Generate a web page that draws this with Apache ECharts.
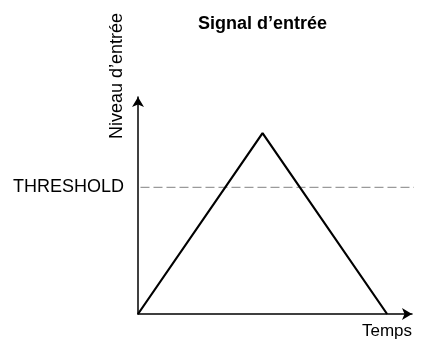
<!DOCTYPE html>
<html>
<head>
<meta charset="utf-8">
<script src="https://cdn.jsdelivr.net/npm/echarts@6/dist/echarts.min.js"></script>
<style>
  html, body { margin: 0; padding: 0; background: #fff; }
  #chart { width: 422px; height: 343px; }
</style>
</head>
<body>
<div id="chart"></div>
<script>
// Input signal: a linear rise to a peak, then a linear fall back to zero
const timeValues = [0, 5, 10];
const levelValues = [0, 10, 0];
// Threshold level, drawn as a dashed horizontal line across the plot
const thresholdLevel = 7;
const thresholdSpan = [0.1, 11.35];
const thresholdLabel = 'THRESHOLD';

const FONT = '"Liberation Sans", Arial, Helvetica, sans-serif';

const chart = echarts.init(document.getElementById('chart'), null, { renderer: 'canvas' });

chart.setOption({
  animation: false,
  backgroundColor: '#ffffff',
  title: {
    text: 'Signal d\u2019entrée',
    left: 193,
    top: 10,
    textStyle: { fontFamily: FONT, fontSize: 18, fontWeight: 'bold', color: '#000' }
  },
  grid: { left: 138, right: 10, top: 97, bottom: 29, containLabel: false },
  xAxis: {
    type: 'value',
    min: 0,
    max: 11,
    name: 'Temps',
    nameLocation: 'end',
    nameGap: 0,
    nameTextStyle: {
      fontFamily: FONT, fontSize: 17, color: '#000',
      align: 'right', verticalAlign: 'top', padding: [9, 0, 0, 0]
    },
    axisLine: {
      show: true,
      lineStyle: { color: '#000', width: 1.5 },
      symbol: ['none', 'arrow'],
      symbolSize: [9, 10]
    },
    axisTick: { show: false },
    axisLabel: { show: false },
    splitLine: { show: false }
  },
  yAxis: {
    type: 'value',
    min: 0,
    max: 12,
    interval: 1,
    name: 'Niveau d\u2019entrée',
    nameLocation: 'end',
    nameRotate: 90,
    nameGap: 0,
    nameTextStyle: {
      fontFamily: FONT, fontSize: 18, color: '#000',
      align: 'left', verticalAlign: 'bottom', padding: [0, 0, 12, -42]
    },
    axisLine: {
      show: true,
      lineStyle: { color: '#000', width: 1.5 },
      symbol: ['none', 'arrow'],
      symbolSize: [9, 10]
    },
    axisTick: { show: false },
    axisLabel: {
      show: true,
      margin: 14,
      fontFamily: FONT,
      fontSize: 18,
      color: '#000',
      formatter: v => (v === thresholdLevel ? thresholdLabel : '')
    },
    splitLine: { show: false }
  },
  series: [
    {
      name: 'threshold',
      type: 'line',
      data: thresholdSpan.map(x => [x, thresholdLevel]),
      showSymbol: false,
      clip: false,
      silent: true,
      lineStyle: { color: '#9a9a9a', width: 1.2, type: [9, 4] },
      z: 1
    },
    {
      name: 'signal',
      type: 'line',
      data: timeValues.map((t, i) => [t, levelValues[i]]),
      showSymbol: false,
      lineStyle: { color: '#000', width: 2.2 },
      z: 2
    }
  ]
});
</script>
</body>
</html>
